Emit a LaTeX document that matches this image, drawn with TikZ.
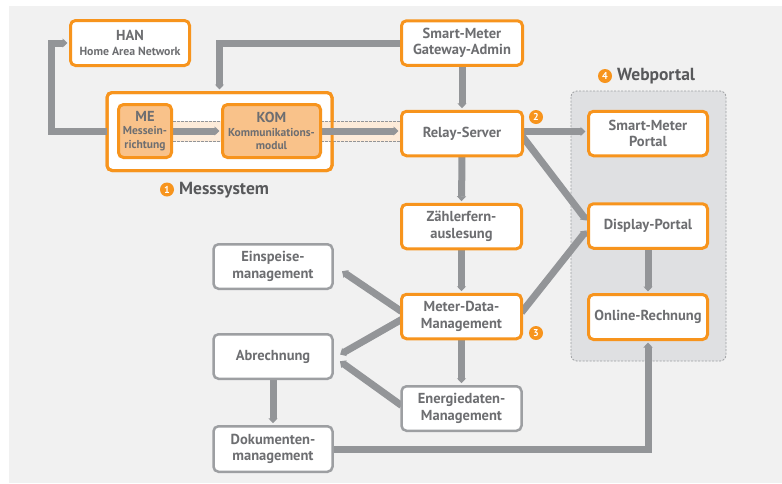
\documentclass[tikz,border=0pt]{standalone}
\usepackage{fontspec}
\setmainfont{PT Sans}
\usetikzlibrary{arrows.meta,calc}
\definecolor{bgc}{HTML}{F1F1F1}
\definecolor{orng}{HTML}{F7941D}
\definecolor{lgray}{HTML}{939598}
\definecolor{txt}{HTML}{6D6E71}
\definecolor{dtxt}{HTML}{58595B}
\definecolor{gbord}{HTML}{9D9FA2}
\definecolor{webc}{HTML}{DFE0E2}
\definecolor{mefill}{HTML}{F9C28A}
\definecolor{bandc}{HTML}{FDEBD9}
\pgfdeclarelayer{bgl}
\pgfdeclarelayer{messl}
\pgfdeclarelayer{conl}
\pgfsetlayers{bgl,messl,conl,main}
\begin{document}
\begin{tikzpicture}[x=1pt,y=-1pt,
  box/.style={rectangle, rounded corners=5pt, line width=3pt, draw=orng, fill=white,
    outer sep=0pt, inner sep=1pt, align=center, text=txt,
    font=\bfseries\fontsize{14.5}{16.5}\selectfont,
    minimum width=119pt, minimum height=44.5pt},
  gbox/.style={box, draw=gbord, line width=2.5pt},
  mebox/.style={box, fill=mefill, font=\bfseries\fontsize{11.5}{13.5}\selectfont},
  conn/.style={draw=lgray, line width=7pt, shorten >=3pt,
    -{Triangle[length=5pt,width=9pt]}},
  numc/.style={circle, fill=orng, text=white, inner sep=0pt, minimum size=14pt,
    font=\bfseries\fontsize{10}{10}\selectfont},
  lbl/.style={anchor=west, inner sep=0pt, text=dtxt, font=\bfseries\fontsize{17.5}{17.5}\selectfont}
]
\useasboundingbox (0,0) rectangle (782,483);
\begin{pgfonlayer}{bgl}
  \fill[bgc] (9,6) rectangle (782,483);
  \draw[gbord, fill=webc, rounded corners=6pt, line width=0.8pt, dash pattern=on 2pt off 1.5pt]
    (571,91) rectangle (726,361);
\end{pgfonlayer}

\begin{pgfonlayer}{messl}
  \node[box, minimum width=225pt, minimum height=78pt] (mess) at (219.5,131.5) {};
  \fill[bandc] (173,121) rectangle (400,141.5);
  \draw[lgray, line width=0.7pt, dash pattern=on 2.5pt off 1.5pt]
    (173,121) -- (400,121) (173,141.5) -- (400,141.5);
  \draw[orng, line width=3pt, rounded corners=5pt] (mess.south west) rectangle (mess.north east);
\end{pgfonlayer}

% nodes
\node[box, minimum width=119pt, minimum height=45pt] (han) at (130,43)
  {HAN\\[-2pt]{\fontsize{11.8}{13}\selectfont Home Area Network}};
\node[mebox, minimum width=53pt, minimum height=53pt] (me) at (145,131)
  {{\fontsize{14.5}{15}\selectfont ME}\\Messein-\\richtung};
\node[mebox, minimum width=98pt, minimum height=53pt] (kom) at (271.5,131)
  {{\fontsize{14.5}{15}\selectfont KOM}\\Kommunikations-\\modul};
\node[box, minimum width=121pt] (gw) at (462,43) {Smart-Meter\\Gateway-Admin};
\node[box, minimum width=121pt] (relay) at (462,133.5) {Relay-Server};
\node[box, minimum width=120pt] (zf) at (461.5,226.5) {Zählerfern-\\auslesung};
\node[box, minimum width=120pt] (mdm) at (461.5,316.5) {Meter-Data-\\Management};
\node[gbox, minimum width=120pt] (en) at (461.5,408.5) {Energiedaten-\\Management};
\node[gbox] (ein) at (273,266.5) {Einspeise-\\management};
\node[gbox] (abr) at (273,356.5) {Abrechnung};
\node[gbox, minimum height=45.5pt] (dok) at (273,449) {Dokumenten-\\management};
\node[box] (smp) at (648,133.5) {Smart-Meter\\Portal};
\node[box] (disp) at (648,226) {Display-Portal};
\node[box, minimum height=45pt] (onl) at (648,317) {Online-Rechnung};

\node[numc] (n1) at (167,189.5) {1};
\node[lbl] (l1) at (179,190) {Messsystem};
\node[numc] (n2) at (536,117) {2};
\node[numc] (n3) at (536,333) {3};
\node[numc] (n4) at (605,76) {4};
\node[lbl] (l4) at (617,76) {Webportal};

\begin{pgfonlayer}{conl}
  \draw[conn] (mess.west) -- ++(-56,0) |- (han.west);
  \draw[conn] (gw.west) -| (mess.north);
  \draw[conn] (me.east) -- (kom.west);
  \draw[conn] (kom.east) -- (kom.east -| relay.west);
  \draw[conn] (gw.south) -- (relay.north);
  \draw[conn] ([yshift=2pt]relay.east) -- ([yshift=2pt]smp.west);
  \draw[conn] ([yshift=-3pt]relay.east) -- ([yshift=3pt]disp.west);
  \draw[conn] ([yshift=4pt]mdm.east) -- ([yshift=-2pt]disp.west);
  \draw[conn] (relay.south) -- (zf.north);
  \draw[conn] (zf.south) -- (mdm.north);
  \draw[conn] (mdm.south) -- (en.north);
  \draw[conn] ([yshift=5pt]mdm.west) -- ($(ein.east)+(7,3)$);
  \draw[conn] ([yshift=-3pt]mdm.west) -- ($(abr.east)+(5,-0.5)$);
  \draw[conn] ([yshift=3pt]en.west) -- ($(abr.east)+(5,3)$);
  \draw[conn] (abr.south) -- (dok.north);
  \draw[conn] (dok.east) -| (onl.south);
  \draw[conn] (disp.south) -- (onl.north);
\end{pgfonlayer}
\end{tikzpicture}
\end{document}
